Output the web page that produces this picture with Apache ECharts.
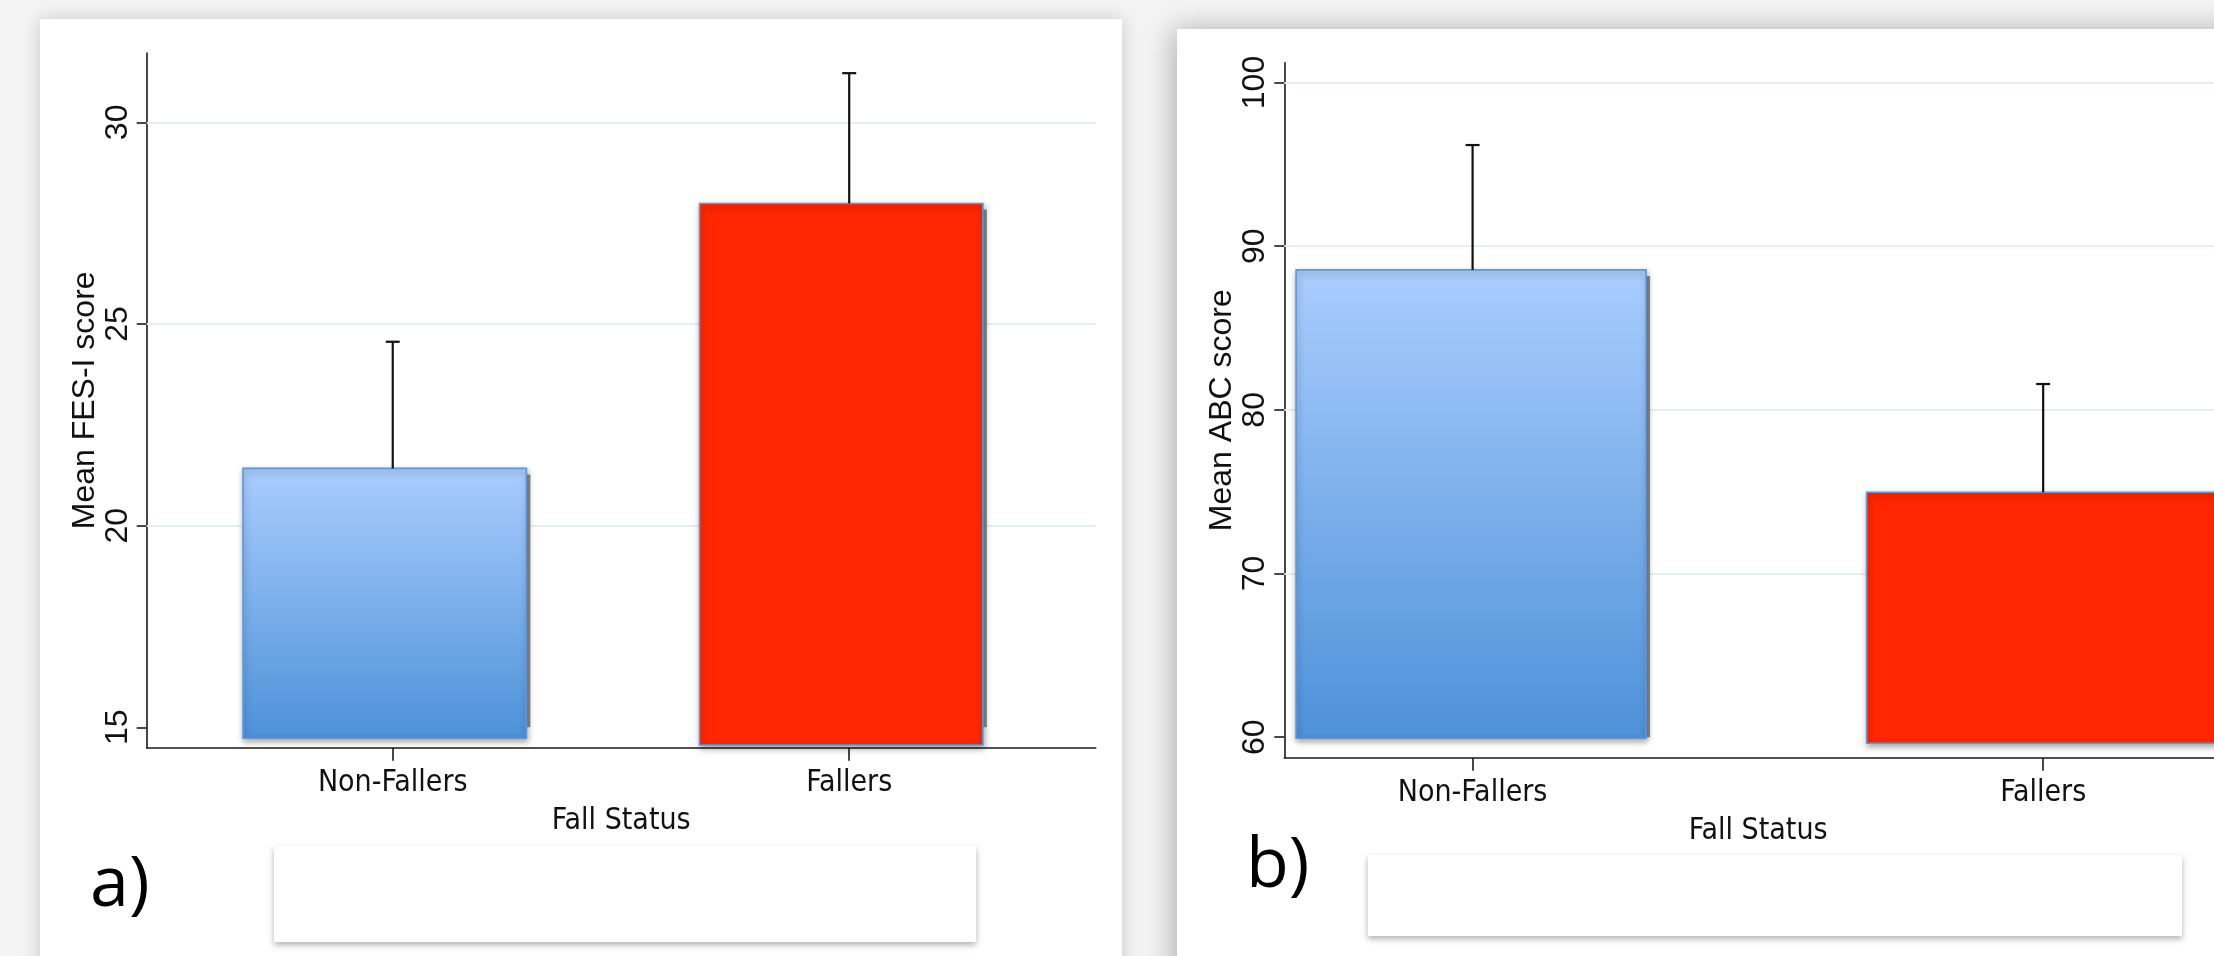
<!DOCTYPE html>
<html><head><meta charset="utf-8">
<script src="https://cdn.jsdelivr.net/npm/echarts@6/dist/echarts.min.js"></script>
<style>html,body{margin:0;padding:0;background:#f4f4f4;overflow:hidden}#c{width:2214px;height:956px;}</style>
</head><body><div id="c"></div>
<script>
// ---------- data ----------
const categories = ['Non-Fallers', 'Fallers'];
const fesMean = [21.42, 27.99];
const fesUpper = [24.56, 31.22];
const fesBarBase = [14.73, 14.56];
const fesTicks = [15, 20, 25, 30];
const abcMean = [88.55, 74.97];
const abcUpper = [96.18, 81.58];
const abcBarBase = [59.94, 59.63];
const abcTicks = [60, 70, 80, 90, 100];
const fesTitle = 'Mean FES-I score';
const abcTitle = 'Mean ABC score';
const xTitle = 'Fall Status';
const panelLabels = ['a)', 'b)'];

// ---------- rendering ----------
const catPos = categories.map((c, i) => i + 1);
const NARROW = "'DejaVu Sans Condensed','Liberation Sans Narrow','Liberation Sans',sans-serif";
const SANS = "'Liberation Sans',Arial,sans-serif";
const chart = echarts.init(document.getElementById('c'), null, {renderer: 'canvas'});

const blueGrad = new echarts.graphic.LinearGradient(0, 0, 0, 1, [
  {offset: 0, color: '#aacdfe'}, {offset: 1, color: '#4d91d8'}]);
const redFill = '#ff2600';

function barRenderer(barW, shift, tickBase) {
  return function (params, api) {
    const i = params.dataIndex;
    const x = api.value(0), mean = api.value(1), base = api.value(2);
    const top = api.coord([x, mean]);
    const bot = api.coord([x, base]);
    const refBot = api.coord([x, tickBase])[1];
    const w = api.size([barW, 0])[0];
    const left = top[0] + shift - w / 2;
    return {
      type: 'group',
      children: [
        {type: 'rect', shape: {x: left + w - 2, y: top[1] + 6, width: 6, height: refBot - top[1] - 6},
         style: {fill: '#8d9196'}},
        {type: 'rect', shape: {x: left, y: top[1], width: w, height: bot[1] - top[1]},
         style: {fill: i === 0 ? blueGrad : redFill, stroke: i === 0 ? '#6395d3' : '#5f97d6', lineWidth: 1.6,
                 shadowBlur: 6, shadowOffsetY: 3, shadowOffsetX: 1, shadowColor: 'rgba(0,0,0,0.35)'}}
      ]
    };
  };
}
function errRenderer(params, api) {
  const x = api.value(0);
  const p0 = api.coord([x, api.value(1)]);
  const p1 = api.coord([x, api.value(2)]);
  const st = {stroke: '#111', lineWidth: 2.2};
  return {type: 'group', children: [
    {type: 'line', shape: {x1: p0[0], y1: p0[1], x2: p1[0], y2: p1[1]}, style: st},
    {type: 'line', shape: {x1: p1[0] - 7, y1: p1[1], x2: p1[0] + 7, y2: p1[1]}, style: st}
  ]};
}

const axisLine = {show: true, lineStyle: {color: '#1a1a1a', width: 1.6}};
const tickStyle = {color: '#1a1a1a', width: 1.6};

function xAxisFor(gridIndex, min, max, namePad) {
  return {
    type: 'value', gridIndex, min, max,
    axisLine,
    axisTick: {show: true, customValues: catPos, length: 13, lineStyle: tickStyle},
    axisLabel: {customValues: catPos, formatter: v => categories[Math.round(v) - 1] || '',
                fontFamily: NARROW, fontSize: 30, color: '#111', margin: 21},
    splitLine: {show: false},
    name: xTitle, nameLocation: 'middle', nameGap: 59,
    nameTextStyle: {fontFamily: NARROW, fontSize: 30, color: '#111', padding: namePad}
  };
}
function yAxisFor(gridIndex, min, max, ticks, title) {
  return {
    type: 'value', gridIndex, min, max,
    axisLine,
    axisTick: {show: true, customValues: ticks, length: 10, lineStyle: tickStyle},
    axisLabel: {customValues: ticks, rotate: 90, fontFamily: SANS, fontSize: 32, color: '#111', margin: 13},
    splitLine: {show: false},
    name: title, nameLocation: 'middle', nameGap: 39, nameRotate: 90,
    nameTextStyle: {fontFamily: SANS, fontSize: 32, color: '#111'}
  };
}
function gridLines(xi, yi, ticks) {
  // light horizontal gridlines at every labelled tick except the lowest one
  return {
    type: 'line', xAxisIndex: xi, yAxisIndex: yi, data: [], silent: true, z: 1,
    markLine: {
      silent: true, symbol: 'none', z: 1, animation: false,
      label: {show: false},
      lineStyle: {color: '#e7eef1', width: 2, type: 'solid'},
      emphasis: {disabled: true},
      data: ticks.slice(1).map(v => ({yAxis: v}))
    }
  };
}

const option = {
  backgroundColor: '#f4f4f4',
  animation: false,
  grid: [
    {left: 146.7, top: 53, width: 949, height: 694.7},
    {left: 1284.3, top: 62.7, right: 0, height: 695}
  ],
  xAxis: [xAxisFor(0, 0.461, 2.540, 0), xAxisFor(1, 0.670, 2.2994, [0, 0, 0, 18])],
  yAxis: [yAxisFor(0, 14.494, 31.72, fesTicks, fesTitle), yAxisFor(1, 58.75, 101.21, abcTicks, abcTitle)],
  series: [
    gridLines(0, 0, fesTicks),
    gridLines(1, 1, abcTicks),
    {type: 'custom', xAxisIndex: 0, yAxisIndex: 0, z: 3,
     renderItem: barRenderer(0.6207, -8, fesTicks[0]),
     encode: {x: 0, y: 1},
     data: categories.map((c, i) => [catPos[i], fesMean[i], fesBarBase[i]])},
    {type: 'custom', xAxisIndex: 0, yAxisIndex: 0, z: 4, renderItem: errRenderer,
     encode: {x: 0, y: [1, 2]},
     data: categories.map((c, i) => [catPos[i], fesMean[i], fesUpper[i]])},
    {type: 'custom', xAxisIndex: 1, yAxisIndex: 1, z: 3,
     renderItem: barRenderer(0.6134, -1.5, abcTicks[0]),
     encode: {x: 0, y: 1},
     data: categories.map((c, i) => [catPos[i], abcMean[i], abcBarBase[i]])},
    {type: 'custom', xAxisIndex: 1, yAxisIndex: 1, z: 4, renderItem: errRenderer,
     encode: {x: 0, y: [1, 2]},
     data: categories.map((c, i) => [catPos[i], abcMean[i], abcUpper[i]])}
  ],
  graphic: [
    {type: 'rect', z: -10, silent: true, shape: {x: 40, y: 19, width: 1082, height: 1000},
     style: {fill: '#ffffff', shadowBlur: 18, shadowColor: 'rgba(0,0,0,0.18)'}},
    {type: 'rect', z: -10, silent: true, shape: {x: 1177, y: 29, width: 1100, height: 1000},
     style: {fill: '#ffffff', shadowBlur: 28, shadowOffsetX: -4, shadowColor: 'rgba(0,0,0,0.28)'}},
    {type: 'rect', z: 10, silent: true, shape: {x: 274, y: 846, width: 702, height: 96},
     style: {fill: '#ffffff', shadowBlur: 6, shadowOffsetY: 3, shadowColor: 'rgba(0,0,0,0.3)'}},
    {type: 'rect', z: 10, silent: true, shape: {x: 1368, y: 855, width: 814, height: 81},
     style: {fill: '#ffffff', shadowBlur: 6, shadowOffsetY: 3, shadowColor: 'rgba(0,0,0,0.3)'}},
    {type: 'text', z: 10, silent: true, x: 90, y: 886,
     style: {text: panelLabels[0], font: "70px 'Open Sans', sans-serif", fill: '#000', verticalAlign: 'middle'}},
    {type: 'text', z: 10, silent: true, x: 1246, y: 867,
     style: {text: panelLabels[1], font: "70px 'Open Sans', sans-serif", fill: '#000', verticalAlign: 'middle'}}
  ]
};
chart.setOption(option);
</script>
</body></html>
